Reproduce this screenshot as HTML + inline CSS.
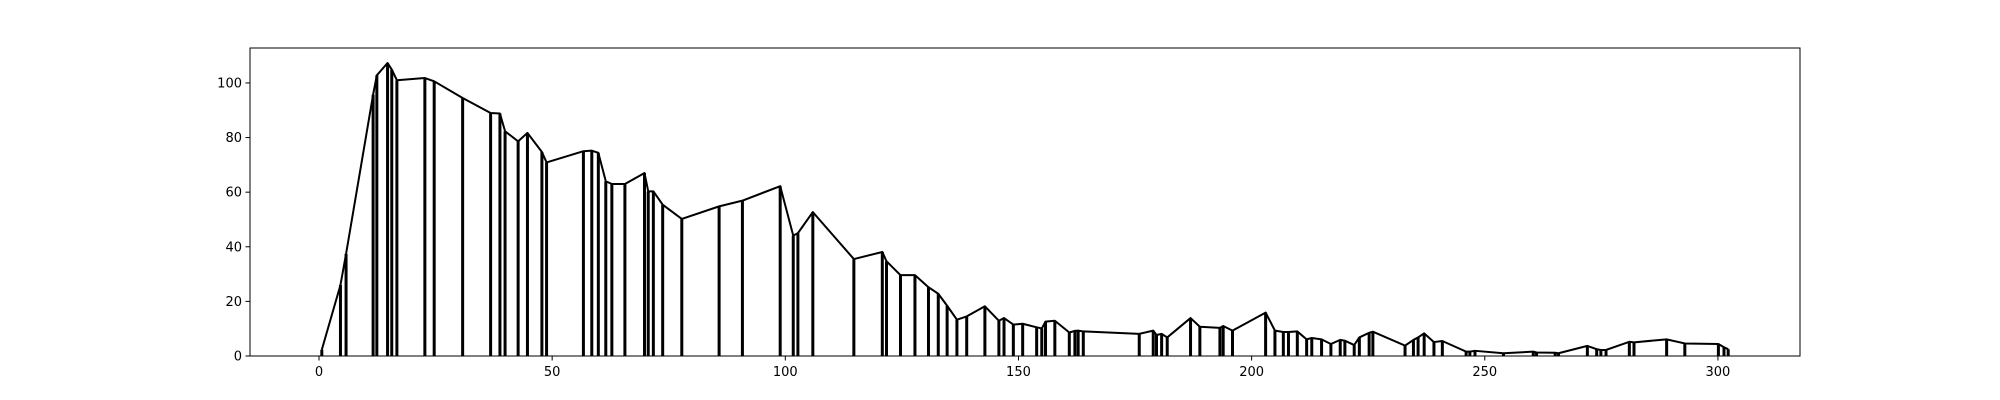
<!DOCTYPE html>
<html><head><meta charset="utf-8"><style>
html,body{margin:0;padding:0;background:#fff;}
svg{display:block;font-family:"DejaVu Sans","Liberation Sans",sans-serif;}
</style></head><body>
<svg id="chart" width="2000" height="400" viewBox="0 0 2000 400">
<rect x="0" y="0" width="2000" height="400" fill="#fff"/>
<g id="marks"></g>
<g id="axes"></g>
</svg>
<script>
const xValues=[0.6,4.6,5.8,11.6,12.4,14.7,15.6,16.7,22.7,24.7,30.8,36.8,38.8,39.9,42.7,44.7,47.8,48.8,56.7,58.5,59.9,61.5,62.8,65.6,69.8,70.6,71.7,73.7,77.8,85.8,90.8,98.9,101.7,102.7,105.9,114.7,120.8,121.7,124.7,127.8,130.7,132.8,134.7,136.8,138.9,142.8,145.8,146.9,148.9,150.9,153.9,155,155.8,157.8,160.9,162.1,162.8,163.9,175.9,178.9,179.6,180.7,181.9,186.9,188.9,193.2,193.9,195.9,203,205,206.8,207.9,209.8,211.8,212.9,215,217,219,220,222,223.1,225.2,226,232.9,234.7,235.7,237,239.1,240.9,246,246.8,247.9,254,260.4,261.1,265.1,265.8,272,274,274.9,276,281,282,289,292.9,300.1,301.3,302.2];
const yValues=[2.3,26,37.4,95.7,102.8,107.3,104.9,101,101.8,100.6,94.5,89,88.8,82.3,78.6,81.7,74.7,70.9,75,75.2,74.4,64,63,63,67,60.3,60.3,55.4,50.2,54.8,56.9,62.2,44.1,45,52.7,35.5,38.1,34.7,29.6,29.6,25.2,22.8,18.4,13.3,14.5,18.2,12.9,13.9,11.5,11.8,10.5,10.1,12.6,12.9,8.6,9.2,9.3,9,8.1,9.3,7.7,8.1,6.8,13.9,10.7,10.3,11,9.3,15.9,9.3,8.8,8.8,9,6.1,6.6,6.1,4.4,5.9,5.6,4,6.8,8.5,8.9,3.8,5.9,6.8,8.3,5.1,5.5,1.6,1.6,1.9,1,1.6,1.3,1.2,1,3.7,2.5,2.2,2.2,5.2,5,6.1,4.6,4.4,3.2,2.5];
const xTicks=[0,50,100,150,200,250,300];
const yTicks=[0,20,40,60,80,100];
const NS="http://www.w3.org/2000/svg";
const L=250,R=1800,T=48,B=356;
const xMin=-14.8,xMax=317.6,yMin=0,yMax=112.8;
function sx(v){return L+(v-xMin)/(xMax-xMin)*(R-L);}
function sy(v){return B-(v-yMin)/(yMax-yMin)*(B-T);}
const marks=document.getElementById('marks');
const axes=document.getElementById('axes');
function mk(tag,attrs,parent){const e=document.createElementNS(NS,tag);for(const k in attrs)e.setAttribute(k,attrs[k]);parent.appendChild(e);return e;}
for(let i=0;i<xValues.length;i++){
  const ln=mk('line',{x1:sx(xValues[i]),x2:sx(xValues[i]),y1:sy(0),y2:sy(yValues[i]),stroke:'#000','stroke-width':3},marks);
  
  
}
let d='';
for(let i=0;i<xValues.length;i++){d+=(i?'L':'M')+sx(xValues[i]).toFixed(2)+' '+sy(yValues[i]).toFixed(2);}
const pl=mk('path',{d:d,fill:'none',stroke:'#000','stroke-width':2,'stroke-linejoin':'round'},marks);


const frame=mk('rect',{x:L,y:T,width:R-L,height:B-T,fill:'none',stroke:'#000','stroke-width':1},axes);


xTicks.forEach(t=>{
  const x=sx(t);
  const tk=mk('line',{x1:x,x2:x,y1:B,y2:B+4.5,stroke:'#000','stroke-width':1},axes);
  
  
  const tx=mk('text',{x:x,y:B+20,'text-anchor':'middle','font-size':13,fill:'#000'},axes);
  tx.textContent=t;
  
  
});
yTicks.forEach(t=>{
  const y=sy(t);
  const tk=mk('line',{x1:L-4.5,x2:L,y1:y,y2:y,stroke:'#000','stroke-width':1},axes);
  
  
  const tx=mk('text',{x:L-8,y:y+4.5,'text-anchor':'end','font-size':13,fill:'#000'},axes);
  tx.textContent=t;
  
  
});
</script>
</body></html>
